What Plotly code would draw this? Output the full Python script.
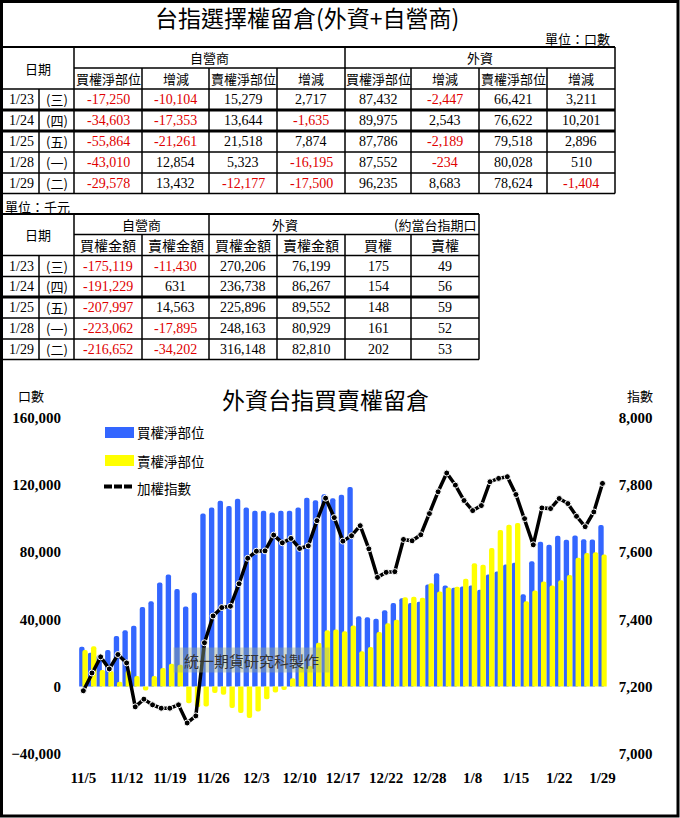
import plotly.graph_objects as go

# ---------------- data ----------------
# Table 1 (unit: contracts)
t1_dates = ["1/23", "1/24", "1/25", "1/28", "1/29"]
t1_weekdays = ["(三)", "(四)", "(五)", "(一)", "(二)"]
dealer_call_net = [-17250, -34603, -55864, -43010, -29578]
dealer_call_chg = [-10104, -17353, -21261, 12854, 13432]
dealer_put_net = [15279, 13644, 21518, 5323, -12177]
dealer_put_chg = [2717, -1635, 7874, -16195, -17500]
foreign_call_net = [87432, 89975, 87786, 87552, 96235]
foreign_call_chg = [-2447, 2543, -2189, -234, 8683]
foreign_put_net = [66421, 76622, 79518, 80028, 78624]
foreign_put_chg = [3211, 10201, 2896, 510, -1404]

# Table 2 (unit: thousand NTD)
dealer_call_amt = [-175119, -191229, -207997, -223062, -216652]
dealer_put_amt = [-11430, 631, 14563, -17895, -34202]
foreign_call_amt = [270206, 236738, 225896, 248163, 316148]
foreign_put_amt = [76199, 86267, 89552, 80929, 82810]
equiv_call = [175, 154, 148, 161, 202]
equiv_put = [49, 56, 59, 52, 53]

# Chart
dates = ["11/5", "11/6", "11/7", "11/8", "11/9", "11/12", "11/13", "11/14", "11/15", "11/16",
         "11/19", "11/20", "11/21", "11/22", "11/23", "11/26", "11/27", "11/28", "11/29", "11/30",
         "12/3", "12/4", "12/5", "12/6", "12/7", "12/10", "12/11", "12/12", "12/13", "12/14",
         "12/17", "12/18", "12/19", "12/20", "12/21", "12/22", "12/24", "12/25", "12/26", "12/27",
         "12/28", "1/2", "1/3", "1/4", "1/7", "1/8", "1/9", "1/10", "1/11", "1/14",
         "1/15", "1/16", "1/17", "1/18", "1/21", "1/22", "1/23", "1/24", "1/25", "1/28", "1/29"]
tick_labels = ["11/5", "11/12", "11/19", "11/26", "12/3", "12/10", "12/17", "12/22",
               "12/28", "1/8", "1/15", "1/22", "1/29"]
call_oi = [23600, 20000, 18500, 21650, 30100, 33500, 36100, 47300, 50700, 62000,
           66700, 58000, 47700, 56000, 103100, 106600, 110600, 107600, 111800, 106600,
           104700, 104700, 103700, 104700, 104700, 106600, 112500, 111000, 114600, 112200,
           114200, 118900, 41800, 41200, 40400, 45400, 49700, 52600, 49700, 50500,
           60800, 67400, 60200, 58800, 59600, 60200, 57600, 66700, 68500, 72600,
           73700, 54900, 74600, 86300, 84500, 89879, 87432, 89975, 87786, 87552, 96235]
put_oi = [21650, 24000, 9800, 9200, 2800, 9500, 6200, -2400, 6200, 11000,
          13500, 12900, -10000, -12500, -12000, -4000, -5000, -12900, -15900, -18900,
          -14900, -7600, -3700, -2100, 4900, 11700, 12200, 26000, 33500, 33900,
          32900, 36300, 21000, 23500, 32400, 37600, 39800, 53200, 53500, 52900,
          61500, 56600, 59000, 59400, 64200, 73400, 72500, 82500, 93200, 96400,
          97400, 50700, 57200, 62600, 60200, 63210, 66421, 76622, 79518, 80028, 78624]
taiex = [7187, 7240, 7288, 7252, 7295, 7270, 7139, 7162, 7145, 7135,
         7135, 7145, 7091, 7112, 7330, 7410, 7435, 7439, 7506, 7582,
         7603, 7604, 7651, 7628, 7641, 7611, 7619, 7694, 7761, 7703,
         7633, 7649, 7679, 7610, 7525, 7540, 7542, 7638, 7634, 7652,
         7715, 7780, 7836, 7800, 7754, 7724, 7739, 7810, 7820, 7825,
         7772, 7700, 7622, 7732, 7730, 7760, 7745, 7707, 7676, 7720, 7805]
left_ticks = [-40000, 0, 40000, 80000, 120000, 160000]
right_ticks = [7000, 7200, 7400, 7600, 7800, 8000]

# ---------------- helpers ----------------
W, H = 680, 818
CJK = "Noto Sans CJK TC"
NUM = "Liberation Serif"
RED = "#E00000"
BLUE = "#3366FF"
YELLOW = "#FFFF00"


def px(x):
    return x / W


def py(y):
    return 1 - y / H


shapes = []
annotations = []


def hline(y, x0, x1, w=1.5):
    shapes.append(dict(type="line", xref="paper", yref="paper", x0=px(x0), x1=px(x1),
                       y0=py(y), y1=py(y), line=dict(color="black", width=w)))


def vline(x, y0, y1, w=1.5):
    shapes.append(dict(type="line", xref="paper", yref="paper", x0=px(x), x1=px(x),
                       y0=py(y0), y1=py(y1), line=dict(color="black", width=w)))


def text(x, y, s, size=13, color="black", family=CJK, xanchor="center", weight="normal"):
    annotations.append(dict(xref="paper", yref="paper", x=px(x), y=py(y), text=s,
                            showarrow=False, xanchor=xanchor, yanchor="middle",
                            font=dict(family=family, size=size, color=color, weight=weight)))


def num(x, y, v, size=14):
    text(x, y, f"{v:,}", size=size, color=RED if v < 0 else "black", family=NUM)


# ---------------- outer frame + title ----------------
shapes.append(dict(type="rect", xref="paper", yref="paper", x0=px(1.5), x1=px(678),
                   y0=py(1.5), y1=py(816), line=dict(color="black", width=3)))
text(307, 17, "台指選擇權留倉(外資+自營商)", size=23)
text(612, 38, "單位：口數", size=13, xanchor="right")

# ---------------- table 1 ----------------
cx = [2, 39, 74, 142, 209, 277, 345, 411, 479, 547, 615]
ry = [47, 68, 89, 110, 131, 152, 173, 193.5]
hline(ry[0], 0, cx[-1], 2)
hline(ry[1], cx[2], cx[-1])
hline(ry[2], 0, cx[-1])
for i, y in enumerate(ry[3:]):
    hline(y, 0, cx[-1], 3 if i < 2 else 1.5)
vline(cx[1], ry[2], ry[-1])
vline(cx[2], ry[0], ry[-1])
for x in [cx[3], cx[4], cx[5], cx[7], cx[8], cx[9]]:
    vline(x, ry[1], ry[-1])
vline(cx[6], ry[0], ry[-1])
vline(cx[10], ry[0], ry[-1])

text((cx[0] + cx[2]) / 2, (ry[0] + ry[2]) / 2, "日期")
text((cx[2] + cx[6]) / 2, (ry[0] + ry[1]) / 2, "自營商")
text((cx[6] + cx[10]) / 2, (ry[0] + ry[1]) / 2, "外資")
sub1 = ["買權淨部位", "增減", "賣權淨部位", "增減", "買權淨部位", "增減", "賣權淨部位", "增減"]
for j, s in enumerate(sub1):
    text((cx[j + 2] + cx[j + 3]) / 2, (ry[1] + ry[2]) / 2, s)
cols1 = [dealer_call_net, dealer_call_chg, dealer_put_net, dealer_put_chg,
         foreign_call_net, foreign_call_chg, foreign_put_net, foreign_put_chg]
for r in range(5):
    yc = (ry[r + 2] + ry[r + 3]) / 2
    text((cx[0] + cx[1]) / 2 + 1, yc, t1_dates[r], size=14, family=NUM)
    text((cx[1] + cx[2]) / 2, yc, t1_weekdays[r], size=13)
    for j, col in enumerate(cols1):
        num((cx[j + 2] + cx[j + 3]) / 2, yc, col[r])

# ---------------- table 2 ----------------
text(3, 206, "單位：千元", size=13, xanchor="left")
cx2 = cx[:9]
ry2 = [214, 234.5, 255.5, 276.5, 297, 318, 339, 359.5]
hline(ry2[0], 0, cx2[-1], 2)
hline(ry2[1], cx2[2], cx2[-1])
hline(ry2[2], 0, cx2[-1])
for i, y in enumerate(ry2[3:]):
    hline(y, 0, cx2[-1], 3 if i == 1 else 1.5)
vline(cx2[1], ry2[2], ry2[-1])
vline(cx2[2], ry2[0], ry2[-1])
vline(cx2[3], ry2[1], ry2[-1])
vline(cx2[4], ry2[0], ry2[-1])
for x in [cx2[5], cx2[6], cx2[7]]:
    vline(x, ry2[1], ry2[-1])
vline(cx2[8], ry2[0], ry2[-1])

text((cx2[0] + cx2[2]) / 2, (ry2[0] + ry2[2]) / 2, "日期")
text((cx2[2] + cx2[4]) / 2, (ry2[0] + ry2[1]) / 2, "自營商")
text((cx2[4] + cx2[6]) / 2 + 8, (ry2[0] + ry2[1]) / 2, "外資")
text(cx2[8] - 1, (ry2[0] + ry2[1]) / 2, "(約當台指期口", xanchor="right")
sub2 = ["買權金額", "賣權金額", "買權金額", "賣權金額", "買權", "賣權"]
for j, s in enumerate(sub2):
    text((cx2[j + 2] + cx2[j + 3]) / 2, (ry2[1] + ry2[2]) / 2, s, size=14)
cols2 = [dealer_call_amt, dealer_put_amt, foreign_call_amt, foreign_put_amt, equiv_call, equiv_put]
for r in range(5):
    yc = (ry2[r + 2] + ry2[r + 3]) / 2
    text((cx2[0] + cx2[1]) / 2 + 1, yc, t1_dates[r], size=14, family=NUM)
    text((cx2[1] + cx2[2]) / 2, yc, t1_weekdays[r], size=13)
    for j, col in enumerate(cols2):
        num((cx2[j + 2] + cx2[j + 3]) / 2, yc, col[r])

# ---------------- chart texts ----------------
text(325, 399, "外資台指買賣權留倉", size=23)
text(31, 395, "口數", size=13)
text(640, 395, "指數", size=13)
# legend
shapes.append(dict(type="rect", xref="paper", yref="paper", x0=px(105), x1=px(134),
                   y0=py(438), y1=py(427), fillcolor=BLUE, line=dict(width=0)))
shapes.append(dict(type="rect", xref="paper", yref="paper", x0=px(105), x1=px(134),
                   y0=py(466), y1=py(455), fillcolor=YELLOW, line=dict(width=0)))
shapes.append(dict(type="line", xref="paper", yref="paper", x0=px(104), x1=px(134),
                   y0=py(486.5), y1=py(486.5), line=dict(color="black", width=4, dash="8px,2px")))
text(135, 432, "買權淨部位", size=13.5, xanchor="left")
text(135, 461, "賣權淨部位", size=13.5, xanchor="left")
text(135, 488, "加權指數", size=13.5, xanchor="left")
# watermark
annotations.append(dict(xref="paper", yref="paper", x=px(251.5), y=py(660), text="統一期貨研究科製作",
                        showarrow=False, xanchor="center", yanchor="middle", width=153, height=22,
                        bgcolor="rgba(150,170,140,0.42)",
                        font=dict(family=CJK, size=15, color="#333333")))

# ---------------- chart ----------------
fig = go.Figure()
fig.add_trace(go.Bar(x=dates, y=call_oi, name="買權淨部位", marker=dict(color=BLUE, line=dict(width=0)),
                     width=0.62, offset=-0.48, yaxis="y"))
fig.add_trace(go.Bar(x=dates, y=put_oi, name="賣權淨部位", marker=dict(color=YELLOW, line=dict(width=0)),
                     width=0.62, offset=-0.11, yaxis="y"))
fig.add_trace(go.Scatter(x=dates, y=taiex, name="加權指數", mode="lines+markers", yaxis="y2",
                         line=dict(color="black", width=3.5),
                         marker=dict(symbol="circle", size=6, color="black",
                                     line=dict(color="white", width=1)),
                         cliponaxis=False))

tickfont = dict(family=NUM, size=15, color="black", weight="bold")
fig.update_layout(
    width=W, height=H, margin=dict(l=0, r=0, t=0, b=0),
    paper_bgcolor="white", plot_bgcolor="rgba(0,0,0,0)",
    barmode="overlay", barcornerradius=2, showlegend=False,
    xaxis=dict(domain=[px(79), px(606.8)], type="category", range=[-0.5, 60.5],
               tickmode="array", tickvals=tick_labels, ticktext=tick_labels,
               showgrid=False, showline=False, zeroline=False, ticks="",
               tickfont=tickfont, ticklabelstandoff=13, automargin=False, fixedrange=True),
    xaxis2=dict(overlaying="x", anchor="free", position=py(686.4), type="linear",
                range=[-0.5, 60.5], tickmode="linear", tick0=-0.5, dtick=1,
                ticks="outside", ticklen=4, tickwidth=1.2, tickcolor="black",
                showticklabels=False, showline=True, linecolor="black", linewidth=1.5,
                showgrid=False, zeroline=False, layer="above traces", automargin=False),
    yaxis=dict(domain=[py(753.5), py(418)], range=[-40000, 160000],
               tickmode="array", tickvals=left_ticks, tickformat=",",
               showgrid=False, zeroline=False, showline=False, ticks="",
               tickfont=tickfont, ticklabelstandoff=17, automargin=False, fixedrange=True),
    yaxis2=dict(overlaying="y", side="right", anchor="x", range=[7000, 8000],
                tickmode="array", tickvals=right_ticks, tickformat=",",
                showgrid=False, zeroline=False, showline=False, ticks="",
                tickfont=tickfont, ticklabelstandoff=11, automargin=False, fixedrange=True),
    shapes=shapes,
    annotations=annotations,
)

fig.write_html("out.html")
